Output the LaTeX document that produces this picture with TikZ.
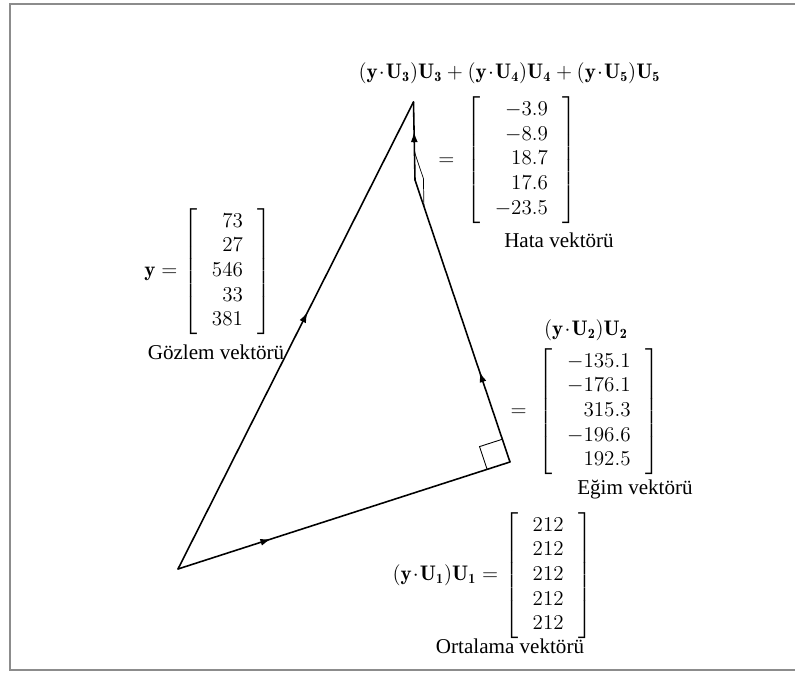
\documentclass[tikz,border=0pt]{standalone}
\usepackage{amsmath,amssymb}
\usepackage{fontspec}
\newfontfamily\lblfont{Liberation Serif}
\usepackage{tikz}
\usetikzlibrary{arrows.meta,decorations.markings,calc}
\definecolor{framegray}{HTML}{8C8C8C}
\newcommand{\colv}[1]{\left[\;\begin{array}{r}#1\end{array}\;\right]}
\newcommand{\yU}[1]{(\mathbf{y}\!\cdot\!\mathbf{U}_{\mathbf{#1}})\mathbf{U}_{\mathbf{#1}}}
\tikzset{
  vec/.style={line width=0.9pt,line cap=round,line join=round},
  midarrow/.style={postaction={decorate,decoration={markings,
    mark=at position #1 with {\arrow{Latex[length=6pt,width=4pt]}}}}},
  mathlbl/.style={font=\large,inner sep=0pt},
  namelbl/.style={font=\lblfont\large,inner sep=0pt},
}

\begin{document}
\begin{tikzpicture}[x=1cm,y=1cm]
    \useasboundingbox (0,0) rectangle (15.90,13.46);
    \draw[framegray,line width=0.8pt] (15.90,13.38) -- (0.20,13.38) -- (0.20,0.06) -- (15.90,0.06);
    \coordinate (o) at (3.56,2.08);
    \coordinate (a) at (10.20,4.22);
    \coordinate (b) at (8.30,9.86);
    \coordinate (t) at (8.27,11.42);
    \draw[vec,midarrow=0.55] (o) -- (t);
    \draw[vec,midarrow=0.28] (o) -- (a);
    \draw[vec,midarrow=0.32] (a) -- (b);
    \draw[vec,midarrow=0.62] (b) -- (t);
    \coordinate (a1) at ($(a)!0.48cm!(o)$);
    \coordinate (a2) at ($(a)!0.48cm!(b)$);
    \draw[line width=0.5pt] (a1) -- ($(a1)+(a2)-(a)$) -- (a2);
    \coordinate (b1) at ($(b)!0.56cm!(t)$);
    \coordinate (b2) at ($(b)!0.56cm!(a)$);
    \draw[line width=0.4pt] (b1) -- ($(b1)+(b2)-(b)$) -- (b2);
    \node[mathlbl] (hdr) at (10.19,12.00) {$\yU{3}+\yU{4}+\yU{5}$};
    \node[mathlbl] (hata) at (10.15,10.26) {$=\;\colv{-3.9\\-8.9\\18.7\\17.6\\-23.5}$};
    \node[namelbl] (hatalbl) at (11.18,8.66) {Hata vektörü};
    \node[mathlbl] (gozlem) at (4.16,8.03) {$\mathbf{y}=\colv{73\\27\\546\\33\\381}$};
    \node[namelbl] (gozlemlbl) at (4.32,6.42) {Gözlem vektörü};
    \node[mathlbl] (egimhdr) at (11.72,6.86) {$\yU{2}$};
    \node[mathlbl] (egim) at (11.70,5.23) {$=\;\colv{-135.1\\-176.1\\315.3\\-196.6\\192.5}$};
    \node[namelbl] (egimlbl) at (12.70,3.68) {Eğim vektörü};
    \node[mathlbl] (ort) at (9.85,1.95) {$\yU{1}=\colv{212\\212\\212\\212\\212}$};
    \node[namelbl] (ortlbl) at (10.20,0.54) {Ortalama vektörü};
\end{tikzpicture}
\end{document}
